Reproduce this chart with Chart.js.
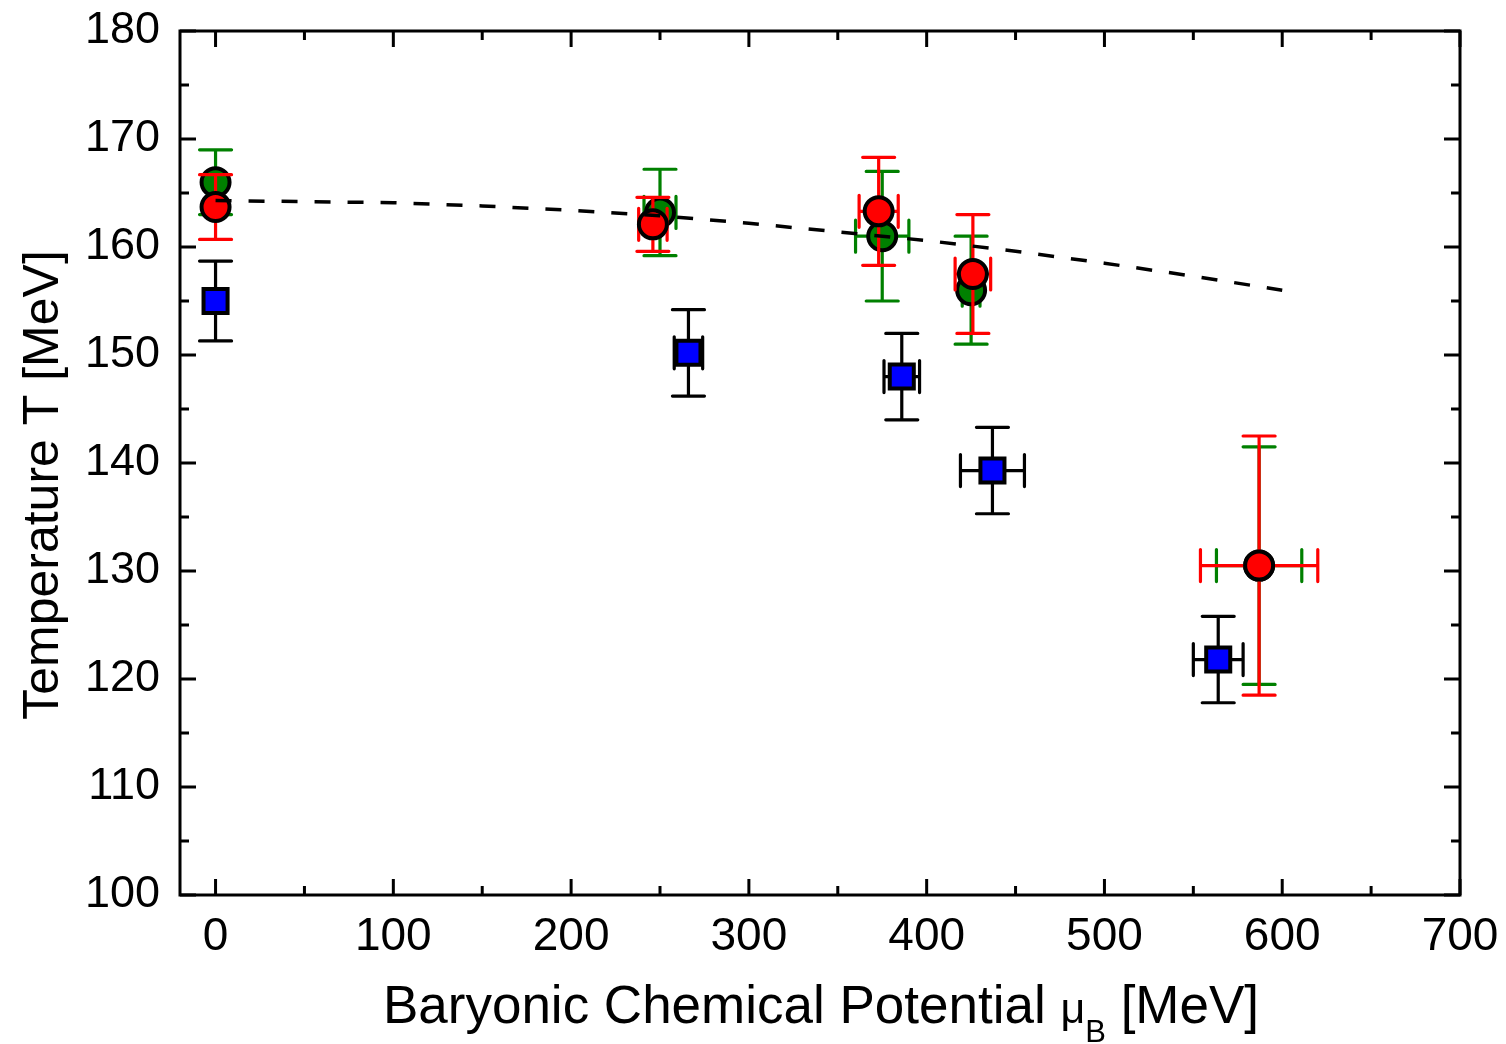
<!DOCTYPE html>
<html>
<head>
<meta charset="utf-8">
<script src="https://cdn.jsdelivr.net/npm/chart.js@4.4.1/dist/chart.umd.min.js"></script>
<style>
  html, body { margin: 0; padding: 0; background: #fff; }
  #wrap { width: 1506px; height: 1044px; }
</style>
</head>
<body>
<div id="wrap"><canvas id="chart"></canvas></div>
<script>
// tick values
const xTicks = [0, 100, 200, 300, 400, 500, 600, 700];
const xMinorTicks = [50, 150, 250, 350, 450, 550, 650];
const yTicks = [100, 110, 120, 130, 140, 150, 160, 170, 180];
const yMinorTicks = [105, 115, 125, 135, 145, 155, 165, 175];

// red circles
const redMu = [0, 246, 373, 426, 587];
const redT = [163.7, 162.1, 163.3, 157.5, 130.5];
const redMuErr = [0, 8, 11, 10, 33];
const redTErr = [3.0, 2.5, 5.0, 5.5, 12.0];

// green circles
const greenMu = [0, 250, 375, 425, 587];
const greenT = [166.0, 163.2, 161.0, 156.0, 130.5];
const greenMuErr = [0, 9, 15, 5, 24];
const greenTErr = [3.0, 4.0, 6.0, 5.0, 11.0];

// blue squares
const blueMu = [0, 266, 386, 437, 564];
const blueT = [155.0, 150.2, 148.0, 139.3, 121.8];
const blueMuErr = [0, 8, 10, 18, 14];
const blueTErr = [3.7, 4.0, 4.0, 4.0, 4.0];

// dashed curve
const lineMu = [0, 50, 100, 150, 200, 250, 300, 350, 400, 450, 500, 550, 600];
const lineT = [164.3, 164.2, 164.1, 163.8, 163.4, 162.9, 162.2, 161.4, 160.6, 159.6, 158.5, 157.3, 156.0];

const FONT = "'Liberation Sans', Arial, sans-serif";

function toPoints(xs, ys) {
    return xs.map((x, i) => ({ x: x, y: ys[i] }));
}

// error bars, frame, inward ticks and axis titles
const extras = {
    id: 'extras',
    beforeDatasetDraw(chart, args) {
        const ds = chart.data.datasets[args.index];
        if (!ds.errX) return;
        const ctx = chart.ctx;
        const xs = chart.scales.x;
        const ys = chart.scales.y;
        const cap = 16;
        ctx.save();
        ctx.strokeStyle = ds.errColor;
        ctx.lineWidth = 3.2;
        ctx.lineCap = 'round';
        ds.data.forEach((p, i) => {
            const px = xs.getPixelForValue(p.x);
            const py = ys.getPixelForValue(p.y);
            const ty = ys.getPixelForValue(p.y + ds.errY[i]);
            const by = ys.getPixelForValue(p.y - ds.errY[i]);
            ctx.beginPath();
            ctx.moveTo(px, ty); ctx.lineTo(px, by);
            ctx.moveTo(px - cap, ty); ctx.lineTo(px + cap, ty);
            ctx.moveTo(px - cap, by); ctx.lineTo(px + cap, by);
            if (ds.errX[i] > 0) {
                const lx = xs.getPixelForValue(p.x - ds.errX[i]);
                const rx = xs.getPixelForValue(p.x + ds.errX[i]);
                ctx.moveTo(lx, py); ctx.lineTo(rx, py);
                ctx.moveTo(lx, py - cap); ctx.lineTo(lx, py + cap);
                ctx.moveTo(rx, py - cap); ctx.lineTo(rx, py + cap);
            }
            ctx.stroke();
        });
        ctx.restore();
    },
    afterDraw(chart) {
        const ctx = chart.ctx;
        const a = chart.chartArea;
        const xs = chart.scales.x;
        const ys = chart.scales.y;
        ctx.save();
        ctx.strokeStyle = '#000';
        ctx.lineWidth = 3;
        ctx.beginPath();
        xTicks.concat(xMinorTicks).forEach(v => {
            const len = xTicks.includes(v) ? 16 : 9;
            const px = xs.getPixelForValue(v);
            ctx.moveTo(px, a.bottom); ctx.lineTo(px, a.bottom - len);
            ctx.moveTo(px, a.top); ctx.lineTo(px, a.top + len);
        });
        yTicks.concat(yMinorTicks).forEach(v => {
            const len = yTicks.includes(v) ? 16 : 9;
            const py = ys.getPixelForValue(v);
            ctx.moveTo(a.left, py); ctx.lineTo(a.left + len, py);
            ctx.moveTo(a.right, py); ctx.lineTo(a.right - len, py);
        });
        ctx.stroke();
        ctx.strokeRect(a.left, a.top, a.right - a.left, a.bottom - a.top);

        ctx.fillStyle = '#000';
        // y title
        ctx.save();
        ctx.translate(58, 485);
        ctx.rotate(-Math.PI / 2);
        ctx.font = '50px ' + FONT;
        ctx.textAlign = 'center';
        ctx.textBaseline = 'alphabetic';
        ctx.fillText('Temperature T [MeV]', 0, 0);
        ctx.restore();

        // x title with subscript
        const parts = [
            { t: 'Baryonic Chemical Potential ', f: '53px ', dy: 0 },
            { t: 'μ', f: '43px ', dy: 0 },
            { t: 'B', f: '31px ', dy: 19 },
            { t: ' [MeV]', f: '53px ', dy: 0 }
        ];
        ctx.textAlign = 'left';
        ctx.textBaseline = 'alphabetic';
        let total = 0;
        parts.forEach(p => { ctx.font = p.f + FONT; p.w = ctx.measureText(p.t).width; total += p.w; });
        let x = 821 - total / 2;
        parts.forEach(p => {
            ctx.font = p.f + FONT;
            ctx.fillText(p.t, x, 1023 + p.dy);
            x += p.w;
        });
        ctx.restore();
    }
};

const chart = new Chart(document.getElementById('chart'), {
    type: 'scatter',
    data: {
        datasets: [
            {
                label: 'curve',
                type: 'line',
                data: toPoints(lineMu, lineT),
                borderColor: '#000',
                borderWidth: 3.5,
                borderDash: [16, 17],
                pointRadius: 0,
                fill: false,
                order: 0
            },
            {
                label: 'red',
                data: toPoints(redMu, redT),
                errX: redMuErr,
                errY: redTErr,
                errColor: '#ff0000',
                backgroundColor: '#ff0000',
                borderColor: '#000',
                borderWidth: 4,
                pointRadius: 14,
                order: 1
            },
            {
                label: 'green',
                data: toPoints(greenMu, greenT),
                errX: greenMuErr,
                errY: greenTErr,
                errColor: '#008000',
                backgroundColor: '#008000',
                borderColor: '#000',
                borderWidth: 4,
                pointRadius: 14,
                order: 2
            },
            {
                label: 'blue',
                data: toPoints(blueMu, blueT),
                errX: blueMuErr,
                errY: blueTErr,
                errColor: '#000',
                backgroundColor: '#0000ff',
                borderColor: '#000',
                borderWidth: 4,
                pointStyle: 'rect',
                pointRadius: 17,
                order: 3
            }
        ]
    },
    options: {
        responsive: true,
        maintainAspectRatio: false,
        animation: false,
        layout: { padding: { top: 31, right: 46, left: 0, bottom: 0 } },
        plugins: {
            legend: { display: false },
            tooltip: { enabled: false }
        },
        scales: {
            x: {
                type: 'linear',
                min: -20,
                max: 700,
                afterBuildTicks: s => { s.ticks = xTicks.map(v => ({ value: v })); },
                afterFit: s => {
                    s.height = 149;
                    s.paddingLeft = 0; s.paddingRight = 0;
                    s.paddingTop = 0; s.paddingBottom = 0;
                },
                grid: { display: false, drawTicks: false },
                border: { display: false },
                ticks: {
                    padding: 15,
                    color: '#000',
                    font: { family: FONT, size: 46 },
                    maxRotation: 0
                }
            },
            y: {
                type: 'linear',
                min: 100,
                max: 180,
                afterBuildTicks: s => { s.ticks = yTicks.map(v => ({ value: v })); },
                afterFit: s => {
                    s.width = 180;
                    s.paddingLeft = 0; s.paddingRight = 0;
                    s.paddingTop = 0; s.paddingBottom = 0;
                },
                grid: { display: false, drawTicks: false },
                border: { display: false },
                ticks: {
                    padding: 20,
                    color: '#000',
                    font: { family: FONT, size: 45 }
                }
            }
        }
    },
    plugins: [extras]
});
</script>
</body>
</html>
